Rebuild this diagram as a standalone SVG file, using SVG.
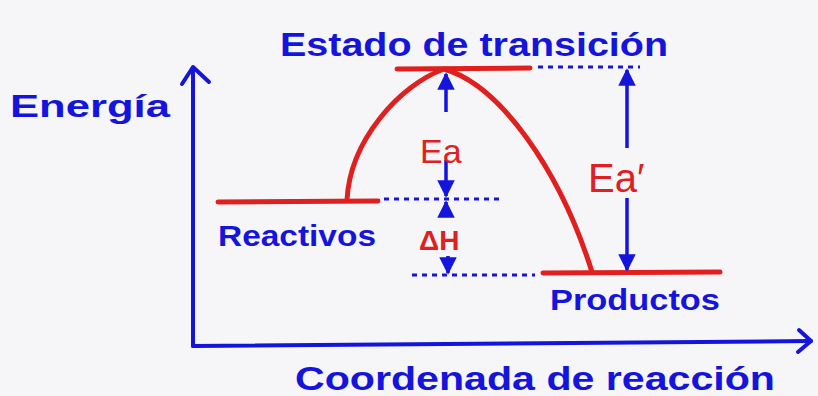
<svg xmlns="http://www.w3.org/2000/svg" width="818" height="396" viewBox="0 0 818 396">
<style>
.bg{fill:#f6f6f8}
.ax{stroke:#1414dc;stroke-width:4;fill:none;stroke-linecap:round;stroke-linejoin:round}
.red{stroke:#e0201e;stroke-width:5;fill:none;stroke-linecap:round}
.dot{stroke:#1414dc;stroke-width:3;fill:none;stroke-dasharray:5 5}
.arr{stroke:#1414dc;stroke-width:3.5;fill:none}
.bt{fill:#1414dc;font-family:"Liberation Sans",Arial,sans-serif;font-weight:bold}
.rt{fill:#e0201e;font-family:"Liberation Sans",Arial,sans-serif}
</style>
<defs>
<marker id="ah" viewBox="0 0 10 10" refX="9" refY="5" markerWidth="5" markerHeight="5" orient="auto-start-reverse">
<path d="M0,0 L10,5 L0,10 z" fill="#1414dc"/>
</marker>
</defs>
<rect class="bg" x="0" y="0" width="818" height="396"/>
<g id="axes">
<path class="ax" d="M193,346 L193,68"/>
<path class="ax" d="M182,84 L193,67 L209,82"/>
<path class="ax" d="M193,346 L811,341"/>
<path class="ax" d="M799,330 L811,341 L798,352"/>
</g>
<g id="energy-label"><text class="bt" x="10" y="117" font-size="32" textLength="160" lengthAdjust="spacingAndGlyphs">Energía</text></g>
<g id="coord-label"><text class="bt" x="295" y="390" font-size="34" textLength="480" lengthAdjust="spacingAndGlyphs">Coordenada de reacción</text></g>
<g id="ts-label"><text class="bt" x="280" y="56" font-size="33" textLength="388" lengthAdjust="spacingAndGlyphs">Estado de transición</text></g>
<g id="reactivos">
<path class="red" d="M218,202 L378,201"/>
<text class="bt" x="218" y="246" font-size="30" textLength="158" lengthAdjust="spacingAndGlyphs">Reactivos</text>
</g>
<g id="ts">
<path class="red" d="M397,69 L530,68"/>
</g>
<g id="productos">
<path class="red" d="M543,273 L720,272"/>
<text class="bt" x="550" y="310" font-size="30" textLength="170" lengthAdjust="spacingAndGlyphs">Productos</text>
</g>
<g id="curve">
<path class="red" d="M347,200 C350,140 400,85 444,69 C500,85 560,170 592,272"/>
</g>
<g id="connectors">
<path class="dot" d="M384,199 L500,199"/>
<path class="dot" d="M538,67 L640,67"/>
<path class="dot" d="M412,275 L535,275"/>
<path class="arr" d="M446,112 L446,74" marker-end="url(#ah)"/>
<path class="arr" d="M446,160 L446,196" marker-end="url(#ah)"/>
<path class="arr" d="M446,214 L446,202" marker-end="url(#ah)"/>
<path class="arr" d="M448,256 L448,273" marker-end="url(#ah)"/>
<path class="arr" d="M627,148 L627,70" marker-end="url(#ah)"/>
<path class="arr" d="M627,198 L627,270" marker-end="url(#ah)"/>
</g>
<g id="labels">
<text class="rt" x="420" y="163" font-size="34">Ea</text>
<text class="rt" x="419" y="250" font-size="28" font-weight="bold">ΔH</text>
<text class="rt" x="588" y="192" font-size="40">Ea′</text>
</g>
</svg>
